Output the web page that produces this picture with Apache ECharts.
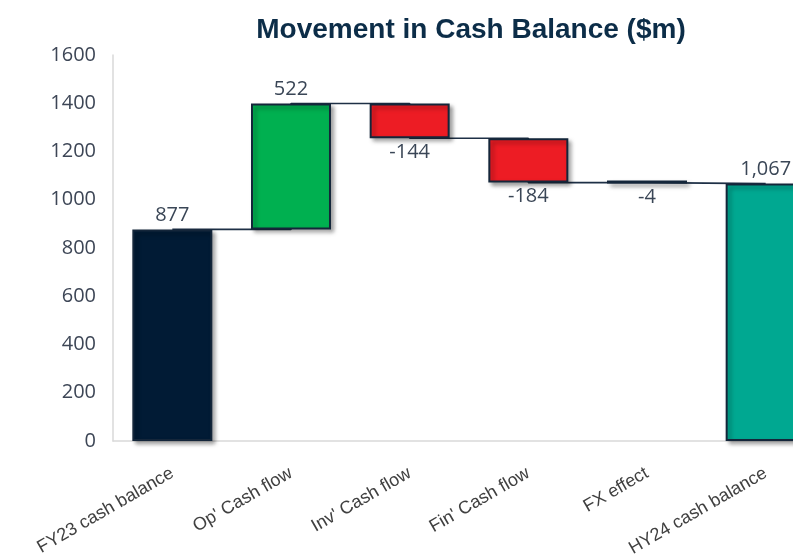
<!DOCTYPE html>
<html>
<head>
<meta charset="utf-8">
<script src="https://cdn.jsdelivr.net/npm/echarts@6/dist/echarts.min.js"></script>
<style>
  html, body { margin: 0; padding: 0; background: #fff; }
  #chart { width: 793px; height: 555px; }
</style>
</head>
<body>
<div id="chart"></div>
<script>
var categories = ['FY23 cash balance', "Op' Cash flow", "Inv' Cash flow", "Fin' Cash flow", 'FX effect', 'HY24 cash balance'];
var values = [877, 522, -144, -184, -4, 1067];
var isTotal = [true, false, false, false, false, true];
var yTicks = { min: 0, max: 1600, step: 200 };

// build the invisible base + visible part of each waterfall step
var base = [], height = [], running = [];
var total = 0;
for (var i = 0; i < values.length; i++) {
    var v = values[i];
    if (isTotal[i]) {
        base.push(0);
        height.push(v);
        total = v;
    } else if (v >= 0) {
        base.push(total);
        height.push(v);
        total += v;
    } else {
        total += v;
        base.push(total);
        height.push(-v);
    }
    running.push(total);
}

function barColor(i) {
    if (isTotal[i]) return i === 0 ? '#011b35' : '#00a891';
    return values[i] >= 0 ? '#00b050' : '#ed1c24';
}

var visible = height.map(function (h, i) {
    return {
        value: h,
        itemStyle: { color: barColor(i) },
        label: { position: values[i] < 0 ? 'bottom' : 'top' }
    };
});

var chart = echarts.init(document.getElementById('chart'));
var option = {
    animation: false,
    title: {
        text: 'Movement in Cash Balance ($m)',
        left: 466,
        top: 11,
        textAlign: 'center',
        textStyle: {
            fontFamily: 'Liberation Sans',
            fontWeight: 'bold',
            fontSize: 28,
            color: '#0c2d48'
        }
    },
    grid: {
        left: 113,
        right: -32,
        top: 55,
        bottom: 114,
        outerBoundsMode: 'none'
    },
    xAxis: {
        type: 'category',
        data: categories,
        axisTick: { show: false },
        axisLine: { lineStyle: { color: '#d9d9d9', width: 1.5 } },
        axisLabel: {
            rotate: 30,
            margin: 31,
            interval: 0,
            fontFamily: 'Liberation Sans',
            fontSize: 18,
            color: '#404040'
        }
    },
    yAxis: {
        type: 'value',
        min: yTicks.min,
        max: yTicks.max,
        interval: yTicks.step,
        splitLine: { show: false },
        axisLine: { show: true, lineStyle: { color: '#d9d9d9', width: 1.5 } },
        axisLabel: {
            margin: 17,
            fontFamily: 'Open Sans',
            fontSize: 20,
            color: '#3d4656',
            formatter: function (v) { return String(v); }
        }
    },
    series: [
        {
            name: 'connector',
            type: 'line',
            step: 'end',
            data: running,
            symbol: 'none',
            z: 1,
            lineStyle: { color: '#1e3046', width: 1.6 }
        },
        {
            name: 'base',
            type: 'bar',
            stack: 'wf',
            barWidth: 80,
            data: base,
            itemStyle: { color: 'transparent' },
            emphasis: { disabled: true },
            z: 2
        },
        {
            name: 'value',
            type: 'bar',
            stack: 'wf',
            barWidth: 80,
            barMinHeight: 3,
            data: visible,
            z: 3,
            itemStyle: {
                borderColor: '#14263a',
                borderWidth: 2,
                shadowColor: 'rgba(0,0,0,0.35)',
                shadowBlur: 4,
                shadowOffsetX: 3,
                shadowOffsetY: 3
            },
            label: {
                show: true,
                distance: 4,
                fontFamily: 'Open Sans',
                fontSize: 20,
                color: '#3a4656',
                formatter: function (p) {
                    return values[p.dataIndex].toLocaleString('en-US');
                }
            }
        }
    ]
};
chart.setOption(option);
</script>
</body>
</html>
